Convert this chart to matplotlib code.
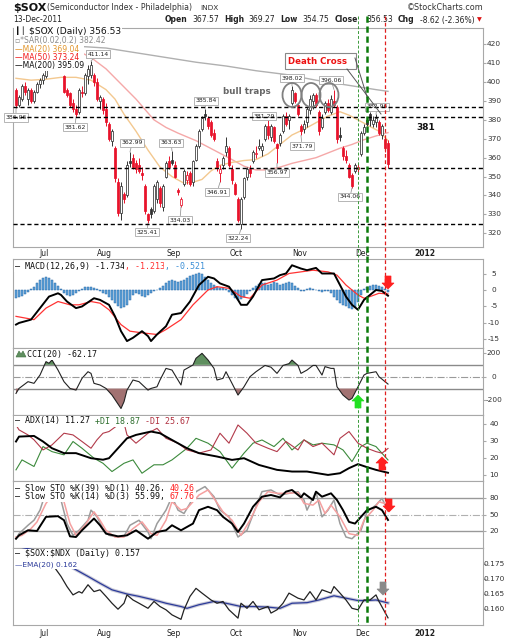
import numpy as np
import pandas as pd
import matplotlib
matplotlib.use("Agg")
import matplotlib.pyplot as plt
import matplotlib.transforms as mtransforms
from matplotlib.patches import Rectangle, Ellipse, Polygon
from matplotlib.lines import Line2D

# ---------------- data ----------------
opens = [396,388,391,398,391,396,390,395,399,401, 403,410,413,419,418,413,403,396,394,389,
         386,384,395,394,403,404,404,400,390,391, 386,378,369,365,347,331,341,340,358,360,
         357,356,352,345,330,333,332,338,344,334, 350,358,359,356,343,335,346,348,352,347,
         359,366,375,383,381,379,373,358,352,356, 363,365,354,346,338,325,339,350,354,358,
         362,365,364,370,377,371,376,367,368,374, 382,380,389,394,388,377,375,379,385,390,
         393,384,376,384,389,384,390,387,372,365, 361,356,351,353,355,362,373,380,383,378,
         379,379,372,370,367.57]
highs = [397,393,399,400,397,397,396,400,402,405, 409,414,418,424,421,415,404,397,395,391,
         388,397,398,405,409,411.14,405,402,393,392, 389,379,375,366,349,347,342,358,362.99,362,
         359,360,355,346,331,334,346,348,345,346, 358,361,363.63,358,344,339,354,353,353,359,
         367,375,382,385.84,382,380,375,360,356,361, 371,366,356,347,339,339,350,355,356,364,
         366,370,368,378,381.29,378,377,368,373,383, 384,383,398.02,395,389,378,380,387,393,394,
         394,385,383,390,391,393,396.06,388,376,366, 364,357,352,357,357,374,378,381,384,382,
         382.96,380,378,371,369.27]
lows = [386.06,387,390,393,388,389,389,394,397,399, 402,408,411,418,414,409,394,392,387,384,
        381.62,383,392,393,399,402,398,390,386,383, 377,369,366,347,329,327,336,339,355,354,
        352,352,348,330,325.41,328,331,336,334,332, 349,354,356,349,340,334.03,345,346,345,345,
        358,365,374,380,375,371,369,353,346.91,354, 361,355,346,340,326,322.24,338,348,350,357,
        360,364,361,369,370,369,368,356.97,366,373, 377,375,388,389,382,371.79,373,376,383,386,
        387,372,375,383,384,383,387,368,369,359, 357,349,344.06,352,352,361,372,377,377,376,
        376,372,370,363,354.75]
closes = [388,392,398,395,396,390,395,399,401,404, 408,413,417,422,419,410,395,393,388,386,
          383,396,394,404,407,409,400,391,392,385, 379,370,374,349,331,345,338,356,357,355,
          354,353,351,332,327,330,345,347,336,345, 357,355,357,350,342,338,353,351,346,358,
          366,374,381,382,377,372,370,355,354,360, 366,356,348,341,327,338,349,354,352,363,
          362,366,366,377,372,377,369,365,372,382, 378,382,396,390,383,374,378,386,391,393,
          388,374,381,389,385,391,388,370,371,361, 359,350,345,356,354,373,376,378,380,380,
          381,373,377,365.15,356.53]

ma20_idx = [0,5,10,15,20,25,30,33,36,40,44,48,52,56,60,62,65,68,72,76,80,84,88,92,96,100,104,108,111,114,118,121,124]
ma20_val = [402,401,401.5,402.5,402.5,401,396,391,383,374,364,355,350,346.5,347.5,348.5,353,356,357.5,358.5,
            359,362,367,372,375,378.5,382,384.3,382.5,380,376.5,374,369.04]
ma50_idx = [0,10,20,25,30,35,40,46,50,54,60,66,72,76,80,84,88,92,96,100,104,108,112,116,120,124]
ma50_val = [427,423,417,413,407,399,391,380,376,373,369,364,359,355.5,353.5,353.5,355,357,358.5,360,
            362.5,365,367,369.5,371.5,373.24]
ma200_idx = [0,10,20,30,40,50,60,70,80,90,100,110,120,124]
ma200_val = [420.5,420,419,418,415.5,413,410.5,408.5,406,404,401,398.5,396,395.09]

macd_idx = [0,1,5,8,11,14,15,17,20,22,26,28,31,33,35,37,39,42,44,45,47,50,52,55,58,61,64,66,68,71,
            73,75,77,79,82,86,88,90,92,95,97,100,102,106,108,110,112,114,116,118,120,122,124]
macd_val = [-10.5,-10,-9,-5.5,-2,-1,-1.5,-3.5,-5.5,-5,-2.5,-3,-4.5,-8,-12.5,-15.5,-14.5,-12.5,-14,-15.5,
            -13.5,-11,-7.5,-7,-3.5,1.5,4,3.5,2,1,-1.5,-4.5,-4.5,-2,3,3.5,4.5,5,7.5,6.5,
            6,6.7,5,5,1.5,-2,-4.5,-6,-3,-1.5,0,-0.3,-1.734]
signal_idx = [0,6,10,14,18,21,25,28,31,35,38,42,47,50,55,59,64,67,71,75,78,82,87,91,95,99,104,107,110,114,116,118,121,124]
signal_val = [-8,-9,-5.5,-3.5,-4.5,-4.5,-3.5,-4,-6,-10.5,-12.5,-13,-13.5,-12,-9,-4.5,0,1,0.5,-2,
              -2.5,1.5,3,5,5.5,6,5.5,4.5,1.5,-1.5,-2.5,-2,-1,-1.213]
hist_val = [-2.5,-2.2,-1.8,-1.2,-0.5,0.3,1.0,2.0,3.0,3.5,3.8,3.6,3.0,2.2,1.2,
            0.2,-0.8,-1.5,-1.8,-1.5,-1.0,-0.4,0.3,0.8,1.0,0.9,0.6,0.2,
            -0.3,-0.8,-1.2,-2.0,-3.0,-4.0,-5.0,-5.5,-5.3,-4.5,-3.0,
            -1.5,-0.8,-1.2,-1.8,-2.0,-1.5,-0.8,-0.3,0.0,
            0.5,1.2,2.0,2.8,3.0,2.8,2.5,2.6,3.0,3.5,4.2,4.6,5.0,5.2,4.8,3.8,
            3.0,2.2,1.5,0.8,0.5,0.6,0.3,
            -0.5,-1.5,-2.5,-3.0,-2.6,-2.0,-1.2,-0.4,
            0.5,1.2,1.8,2.2,2.0,1.5,1.8,2.5,2.0,1.5,1.8,2.2,2.5,2.0,1.2,0.5,
            -0.3,-0.2,0.2,0.5,0.4,0.0,-0.4,-0.5,-0.3,-0.4,
            -1.0,-2.0,-3.0,-3.8,-4.5,-5.0,-5.5,-5.8,-5.2,-3.5,-1.5,
            0.2,0.8,1.3,1.5,1.4,1.2,0.8,0.2,-0.521]

cci_idx = [0,1,4,6,8,10,11,12,14,16,18,20,22,24,25,26,28,30,32,35,36,37,39,41,44,45,47,48,50,52,
           55,56,59,60,62,64,66,67,69,70,72,74,76,78,80,83,85,87,89,91,92,94,95,97,99,100,102,103,105,106,
           107,109,111,112,114,116,117,120,121,124]
cci_val = [-141,-99,-42,-56,14,127,113,141,56,-42,-99,-113,-14,42,28,-56,-70,-99,-155,-268,
           -211,-113,-28,-42,-113,-99,-85,-28,70,56,-70,56,99,155,197,141,70,-28,-14,42,
           -56,-155,-85,0,42,95,80,28,95,110,140,95,28,56,95,95,14,85,70,70,
           -85,-155,-197,-183,-85,14,28,42,0,-62.17]

adx_idx = [0,1,6,9,12,16,20,25,29,31,34,37,40,45,48,51,57,61,67,72,76,81,87,92,97,104,108,111,114,117,120,124]
adx_val = [29.8,32.7,33.1,29.8,25.8,22.9,22.9,19.9,19,19.9,25.8,31.7,33.7,35.7,34.7,31.7,25.8,22.9,20.9,18.9,
           19.9,15.9,13,12,12,10,11,14,16.4,14.6,13,11.27]
pdi_idx = [0,2,6,9,12,16,19,22,26,29,32,36,39,42,46,49,52,57,60,64,68,72,76,79,82,86,89,92,96,99,
           102,106,109,112,115,117,120,124]
pdi_val = [13,18.9,15,26.8,23.8,21.9,29.8,25.8,19.9,16.9,12,16.9,18.9,11,16,16,18.9,25.8,31.7,28.8,
           23.8,14,22.9,28.8,30.7,26.8,31.7,24.8,30.7,27.8,28.8,27.8,24.8,17.9,26.8,28.8,26.8,18.87]
mdi_idx = [0,1,4,6,9,12,16,19,22,25,27,29,31,34,35,37,40,44,47,50,54,57,61,65,68,71,74,77,80,84,
           87,90,94,96,99,102,106,108,111,114,117,120,122,124]
mdi_val = [39.6,36.7,33.7,30.8,24.8,27.8,34.7,33.7,29.8,25.8,30.8,34.7,35.7,39.6,48,33.7,28.8,34.7,37.6,31.7,
           28.8,24.8,22.9,24.8,34.7,28.8,39.6,34.7,28.8,25.8,23.8,29.8,24.8,30.8,26.8,28.8,21.9,31.7,35.7,28.8,
           25.8,23.8,22.9,25.67]

sto39_idx = [0,1,4,7,10,14,16,18,20,22,26,28,30,34,37,40,44,47,50,52,55,59,61,64,67,69,72,74,76,79,
             82,85,88,90,92,95,96,99,100,102,105,107,109,111,113,115,117,120,122,124]
sto39_val = [6.8,12.8,21.8,20.6,45.8,47,39.8,11,9.8,21.8,42.8,30.8,15.8,11,12.8,21.8,6.8,18.8,21.8,30.8,
             21.8,33.8,57.8,63.8,57.8,45.8,33.8,18.8,33.8,63.8,81.8,84.8,80.6,90.8,93.8,80.6,87.8,75.8,90.8,81.8,
             87.8,75.8,57.8,36.8,33.8,45.8,57.8,63.8,57.8,40.26]
sto14k_idx = [0,1,4,6,8,10,12,15,17,19,21,24,25,27,29,31,34,36,38,41,44,45,47,50,52,54,56,58,60,63,
              66,68,71,74,77,80,82,85,88,91,94,96,97,100,102,104,106,108,110,112,115,117,120,122,124]
sto14k_val = [6.8,15.8,30.8,39.8,57.8,90.8,93.8,75.8,33.8,12.8,21.8,39.8,57.8,45.8,24.8,12.8,9.8,11,30.8,39.8,
              18.8,6.8,33.8,57.8,81.8,57.8,51.8,69.8,90.8,99.8,81.8,57.8,45.8,9.8,21.8,63.8,90.8,93.8,84.8,87.8,
              90.8,75.8,57.8,90.8,45.8,57.8,75.8,33.8,9.8,6.8,21.8,54.8,66.8,78.8,55.99]
sto14d_idx = [0,2,5,7,10,13,16,18,20,23,26,28,30,33,36,39,42,45,47,50,52,55,57,61,64,66,69,72,75,78,
              81,84,87,90,94,96,99,101,103,105,108,111,114,116,119,121,124]
sto14d_val = [9.8,12.8,24.8,36.8,69.8,90.8,72.8,33.8,12.8,30.8,54.8,39.8,21.8,9.8,9.8,24.8,36.8,15.8,12.8,39.8,
              72.8,57.8,60.8,84.8,93.8,78.8,54.8,39.8,12.8,39.8,72.8,90.8,87.8,87.8,89,69.8,66.8,75.8,51.8,66.8,
              45.8,15.8,12.8,39.8,57.8,72.8,67.76]

ratio_idx = [0,4,8,11,13,15,17,19,21,22,24,26,28,30,32,34,36,37,39,41,44,46,48,50,52,55,56,58,60,62,
             65,67,69,71,74,75,77,79,81,84,85,87,89,91,94,96,98,100,102,105,106,108,110,112,114,116,118,120,121,124]
ratio_val = [0.1787,0.1776,0.1759,0.1742,0.1737,0.1709,0.1675,0.1647,0.1658,0.1653,
             0.1681,0.1658,0.1664,0.1642,0.1619,0.1599,0.1619,0.1647,0.1630,0.1619,
             0.1602,0.1625,0.1608,0.1597,0.1580,0.1565,0.1597,0.1642,0.1669,0.1653,
             0.1630,0.1619,0.1625,0.1597,0.1569,0.1619,0.1602,0.1625,0.1597,0.1608,
             0.1586,0.1597,0.1619,0.1653,0.1636,0.1630,0.1658,0.1630,0.1664,0.1653,
             0.1675,0.1653,0.1630,0.1602,0.1597,0.1630,0.1630,0.1647,0.1625,0.1570]
ema_idx = [0,6,11,17,24,28,32,37,41,46,50,55,57,61,66,70,75,79,84,88,92,97,101,106,110,114,117,120,124]
ema_val = [0.1810,0.1798,0.1776,0.1748,0.1709,0.1686,0.1664,0.1650,0.1642,0.1630,
           0.1619,0.1608,0.1602,0.1614,0.1625,0.1619,0.1608,0.1608,0.1606,0.1602,
           0.1619,0.1621,0.1630,0.1644,0.1636,0.1628,0.1628,0.1630,0.1620]

support_levels = [387, 381.3, 354.5, 325]
value_labels = [  # text, day index, price
    ("386.06", 0, 386.06), ("381.62", 20, 381.62), ("411.14", 25, 411.14), ("362.99", 38, 362.99),
    ("363.63", 52, 363.63), ("385.84", 63, 385.84), ("381.29", 84, 381.29), ("398.02", 92, 398.02),
    ("396.06", 106, 396.06), ("382.96", 120, 382.96), ("371.79", 95, 371.79), ("356.97", 87, 356.97),
    ("346.91", 68, 346.91), ("344.06", 112, 344.06), ("325.41", 44, 325.41), ("334.03", 55, 334.03),
    ("322.24", 75, 322.24)]
label_px = [(16, 117.5), (75, 127), (98, 54), (132, 143), (171, 143), (206, 101), (264, 116),
            (292, 78), (331, 80), (377, 107), (302, 146), (277, 173), (217, 192), (350, 197),
            (147, 232), (180, 220), (238, 238)]

# ---------------- figure ----------------
W, H = 529, 640
plt.rcParams['font.family'] = ['DejaVu Sans']
fig = plt.figure(figsize=(W / 100, H / 100), dpi=100)
fig.patch.set_facecolor('white')
renderer = fig.canvas.get_renderer()

n = len(closes)
holidays = pd.to_datetime(['2011-07-04', '2011-09-05', '2011-11-24', '2011-12-26',
                           '2012-01-02', '2012-01-16', '2012-02-20'])
days = pd.bdate_range('2011-06-17', '2012-03-30')
days = days[~days.isin(holidays)]

XL = (-1.0, 155.67)
LPX, RPX = 13, 483
K = '#111111'
RED = '#e8132b'
GRID = '#a8a8a8'


def make_ax(top, bot):
    ax = fig.add_axes([LPX / W, 1 - bot / H, (RPX - LPX) / W, (bot - top) / H])
    ax.set_xlim(*XL)
    ax.set_xticks([])
    for s in ax.spines.values():
        s.set_color(GRID)
        s.set_linewidth(0.8)
    ax.yaxis.tick_right()
    ax.tick_params(axis='y', length=2, color='#aaaaaa', labelright=False, labelleft=False)
    return ax


def ylabels(ax, ticks, labels):
    ax.set_yticks(ticks)
    tr = ax.get_yaxis_transform()
    for t, s in zip(ticks, labels):
        ax.text(1 + 11 / 470, t, s, transform=tr, ha='center', va='center',
                fontsize=5.3, color='#333333', clip_on=False)


ax1 = make_ax(28, 247); ax1.set_ylim(312.75, 428.6)
ax2 = make_ax(259, 348); ax2.set_ylim(-17.6, 9.4)
ax3 = make_ax(348, 415); ax3.set_ylim(-323, 242)
ax4 = make_ax(415, 481); ax4.set_ylim(6.4, 45.5)
ax5 = make_ax(481, 547.5); ax5.set_ylim(-8.9, 109.8)
ax6 = make_ax(547.5, 625); ax6.set_ylim(0.1546, 0.1806)

ylabels(ax1, list(range(320, 421, 10)), [str(v) for v in range(320, 421, 10)])
ylabels(ax2, [5, 0, -5, -10, -15], ['5', '0', '-5', '-10', '-15'])
ylabels(ax3, [200, 0, -200], ['200', '0', '-200'])
ylabels(ax4, [10, 20, 30, 40], ['10', '20', '30', '40'])
ylabels(ax5, [20, 50, 80], ['20', '50', '80'])
ylabels(ax6, [0.160, 0.165, 0.170, 0.175], ['0.160', '0.165', '0.170', '0.175'])


def px2data(ax, x, y):
    return ax.transData.inverted().transform((x, H - y))


def white_box(x0, y0, x1, y1, z=19):
    # figure-level white block (legend background), pixel coords from top-left
    fig.add_artist(Rectangle((x0 / W, 1 - y1 / H), (x1 - x0) / W, (y1 - y0) / H,
                             transform=fig.transFigure, fc='white', ec='none', zorder=z))


# month labels
months = [('Jul', 2011, 7), ('Aug', 2011, 8), ('Sep', 2011, 9), ('Oct', 2011, 10),
          ('Nov', 2011, 11), ('Dec', 2011, 12), ('2012', 2012, 1)]
for ax, yoff in [(ax1, -6 / 219), (ax6, -8 / 77.5)]:
    tr = mtransforms.blended_transform_factory(ax.transData, ax.transAxes)
    for lab, yy, mm in months:
        idx = int(np.where((days.year == yy) & (days.month == mm))[0][0])
        ax.text(idx - 0.6, yoff, lab, transform=tr, ha='center', va='center', fontsize=5.5,
                color='#222222', fontweight='bold' if lab == '2012' else 'normal', clip_on=False)

# ---------------- main price panel ----------------
ax1.plot(ma200_idx, ma200_val, color='#b0b0b0', lw=1.0, zorder=2)
ax1.plot(ma50_idx, ma50_val, color='#f5a8a8', lw=1.0, zorder=2)
ax1.plot(ma20_idx, ma20_val, color='#f3c88f', lw=1.0, zorder=2)

for k in range(n):
    o, h, l, c = opens[k], highs[k], lows[k], closes[k]
    prev = closes[k - 1] if k > 0 else o
    col = RED if c < prev else '#333333'
    ax1.vlines(k, l, h, color=col, lw=0.7, zorder=3)
    up = c >= o
    ax1.add_patch(Rectangle((k - 0.32, min(o, c)), 0.64, max(abs(c - o), 0.4),
                            facecolor='white' if up else col, edgecolor=col, lw=0.55, zorder=3.5))

for v in support_levels:
    ax1.axhline(v, color='black', lw=1.0, ls=(0, (3, 2)), zorder=5)

for (txt, i, v), (xp, yp) in zip(value_labels, label_px):
    xd, yd = px2data(ax1, xp, yp)
    ax1.annotate(txt, xy=(i, v), xytext=(xd, yd), textcoords='data', ha='center', va='center',
                 fontsize=4.4, color='#222222', zorder=4.6, annotation_clip=False,
                 bbox=dict(boxstyle='square,pad=0.25', fc='white', ec='#aaaaaa', lw=0.6),
                 arrowprops=dict(arrowstyle='-', color='#999999', lw=0.6, shrinkA=0, shrinkB=0))

# bull trap circles
for cx in (292, 311, 329):
    xd, yd = px2data(ax1, cx, 95)
    ax1.add_patch(Ellipse((xd, yd), 19 / 3.0, 24 / 1.89, fill=False, ec='#808080', lw=1.3, zorder=6))
xd, yd = px2data(ax1, 247, 91)
ax1.text(xd, yd, 'bull traps', ha='center', va='center', fontsize=6.3, fontweight='bold',
         color='#666666', zorder=6)
xd, yd = px2data(ax1, 426, 127)
ax1.text(xd, yd, '381', ha='center', va='center', fontsize=6.5, fontweight='bold', color='#111111', zorder=6)

# Death cross callout
fig.add_artist(Rectangle((285 / W, 1 - 69 / H), 71 / W, 16 / H, transform=fig.transFigure,
                         fc='white', ec='#888888', lw=0.8, zorder=21))
fig.text(288 / W, 1 - 61.5 / H, 'Death Cross', color='#ee1111', fontsize=6.2, fontweight='bold',
         ha='left', va='center', zorder=22)
for (x0, y0), (x1, y1) in [((355, 58), (368, 100)), ((347, 69), (381, 114))]:
    fig.add_artist(Line2D([x0 / W, x1 / W], [1 - y0 / H, 1 - y1 / H], transform=fig.transFigure,
                          color='#555555', lw=0.7, zorder=22))

# ---------------- MACD ----------------
ax2.bar(range(n), hist_val, width=0.9, color='#5ea2da', edgecolor='#2a6aa8', lw=0.35, zorder=2)
ax2.plot(signal_idx, signal_val, color='#ff3333', lw=0.9, zorder=3)
ax2.plot(macd_idx, macd_val, color='black', lw=1.4, zorder=4)

# ---------------- CCI ----------------
cx_ = np.array(cci_idx, dtype=float)
cv_ = np.array(cci_val, dtype=float)
ax3.fill_between(cx_, cv_, 100, where=cv_ > 100, interpolate=True, color='#5f8f5f', lw=0, zorder=2)
ax3.fill_between(cx_, cv_, -100, where=cv_ < -100, interpolate=True, color='#a27272', lw=0, zorder=2)
ax3.axhline(100, color='#8a8a8a', lw=1.0, zorder=1)
ax3.axhline(-100, color='#8a8a8a', lw=1.0, zorder=1)
ax3.axhline(0, color='#9a9a9a', lw=0.8, ls='-.', zorder=1)
ax3.plot(cx_, cv_, color='#222222', lw=0.8, zorder=3)

# ---------------- ADX ----------------
ax4.plot(pdi_idx, pdi_val, color='#3c8a3c', lw=0.8, zorder=2)
ax4.plot(mdi_idx, mdi_val, color='#b23a4a', lw=0.8, zorder=2)
ax4.plot(adx_idx, adx_val, color='black', lw=1.4, zorder=3)

# ---------------- Slow STO ----------------
ax5.axhline(80, color='#999999', lw=1.0, zorder=1)
ax5.axhline(20, color='#999999', lw=1.0, zorder=1)
ax5.axhline(50, color='#b0b0b0', lw=0.8, ls='-.', zorder=1)
ax5.plot(sto14k_idx, sto14k_val, color='#9c9c9c', lw=1.1, zorder=2)
ax5.plot(sto14d_idx, sto14d_val, color='#f5a0a0', lw=1.1, zorder=2)
ax5.plot(sto39_idx, sto39_val, color='black', lw=1.4, zorder=3)

# ---------------- SOX:NDX ----------------
ax6.plot(ema_idx, ema_val, color='#c9c9d6', lw=2.4, zorder=2)
ax6.plot(ema_idx, ema_val, color='#2b3a9a', lw=0.9, zorder=3)
ax6.plot(ratio_idx, ratio_val, color='#222222', lw=0.9, zorder=4)

# legend background blocks
white_box(13.6, 28.6, 84, 70)
white_box(13.6, 28.6, 124, 36)
white_box(13.6, 549, 146, 559.5)
white_box(13.6, 559.5, 70, 569)

# the 411.14 tag sits on top of the legend block in the original
t411 = fig.text(98 / W, 1 - 54 / H, '411.14', fontsize=4.4, color='#222222', ha='center', va='center',
                zorder=19.5, bbox=dict(boxstyle='square,pad=0.25', fc='white', ec='#aaaaaa', lw=0.6))


# ---------------- text helpers ----------------
def rich(xpx, ypx, parts, size=6.0, family='DejaVu Sans', bg=True):
    x = xpx
    for s, col, wt in parts:
        t = fig.text(x / W, 1 - ypx / H, s, color=col, fontsize=size, fontweight=wt, family=family,
                     ha='left', va='center', zorder=20)
        if bg:
            t.set_bbox(dict(boxstyle='square,pad=0.12', fc='white', ec='none'))
        bb = t.get_window_extent(renderer=renderer)
        x = bb.x1
    return x


MONO = 'DejaVu Sans Mono'
# main legend
rich(15, 31.7, [("\u2503\u2502 ", K, 'normal'), ("\\$SOX (Daily) 356.53", K, 'normal')], size=6.6)
rich(15, 40.7, [("\u25AB*SAR(0.02,0.2) 382.42", '#8a8a8a', 'normal')], size=5.5)
rich(15, 49.3, [("\u2014MA(20) 369.04", '#e2962c', 'normal')], size=5.5)
rich(15, 57.3, [("\u2014MA(50) 373.24", '#f21c1c', 'normal')], size=5.5)
rich(15, 65.3, [("\u2014MA(200) 395.09", K, 'normal')], size=5.5)
# panel legends
rich(15, 266.5, [("\u2014 MACD(12,26,9) -1.734", K, 'normal'), (", -1.213", '#ff3030', 'normal'),
                 (", -0.521", '#3b8fd6', 'normal')], size=6.0, family=MONO)
fig.add_artist(Polygon([(16 / W, 1 - 357 / H), (19 / W, 1 - 351 / H), (21 / W, 1 - 354 / H),
                        (23 / W, 1 - 351 / H), (26 / W, 1 - 357 / H)], closed=True,
                       transform=fig.transFigure, fc='#5f8f5f', ec='#3f6f3f', lw=0.4, zorder=21))
rich(27, 354, [("CCI(20) -62.17", K, 'normal')], size=6.0, family=MONO)
rich(15, 421, [("\u2014 ADX(14) 11.27 ", K, 'normal'), ("+DI 18.87 ", '#2f6f2f', 'normal'),
               ("-DI 25.67", '#b0303f', 'normal')], size=6.0, family=MONO)
rich(15, 488.3, [("\u2014 Slow STO %K(39) %D(1) 40.26, ", K, 'normal'), ("40.26", '#ff2020', 'normal')],
     size=6.0, family=MONO)
rich(15, 496.5, [("\u2014 Slow STO %K(14) %D(3) 55.99, ", K, 'normal'), ("67.76", '#ff2020', 'normal')],
     size=6.0, family=MONO)
rich(15, 554, [("\u2014 \\$SOX:\\$NDX (Daily) 0.157", K, 'normal')], size=6.0, family=MONO)
rich(15, 564.5, [("\u2014EMA(20) 0.162", '#2b3a9a', 'normal')], size=5.3)

# header
fig.text(13 / W, 1 - 8 / H, '\\$SOX', fontsize=8, fontweight='bold', color=K, ha='left', va='center')
fig.text(47 / W, 1 - 8 / H, '(Semiconductor Index - Philadelphia)', fontsize=5.7, color='#333333',
         ha='left', va='center')
fig.text(200 / W, 1 - 8 / H, 'INDX', fontsize=5.3, color='#333333', ha='left', va='center')
fig.text(484 / W, 1 - 8 / H, '\u00a9StockCharts.com', fontsize=5.8, color='#333333', ha='right', va='center')
fig.text(13 / W, 1 - 20 / H, '13-Dec-2011', fontsize=5.5, color='#222222', ha='left', va='center')
hdr = [(165, 'Open', True), (192, '367.57', False), (224, 'High', True), (248, '369.27', False),
       (280, 'Low', True), (302, '354.75', False), (335, 'Close', True), (366, '356.53', False),
       (398, 'Chg', True), (420, '-8.62 (-2.36%)', False)]
for xp, s, b in hdr:
    fig.text(xp / W, 1 - 20 / H, s, fontsize=5.5, color='#222222', fontweight='bold' if b else 'normal',
             ha='left', va='center')
fig.text(477 / W, 1 - 20 / H, '\u25BC', fontsize=4.5, color='#dd1111', ha='left', va='center')

# ---------------- vertical signal lines ----------------
for i, col, lw, ls in [(114.0, '#3a9a3a', 0.7, (0, (3, 2))), (116.85, '#0b7a0b', 1.8, (0, (2.5, 1.5))),
                       (123.0, '#e02020', 0.9, (0, (3, 2)))]:
    xpx = ax1.transData.transform((i, 350))[0]
    fig.add_artist(Line2D([xpx / W, xpx / W], [1 - 16 / H, 1 - 625 / H], transform=fig.transFigure,
                          color=col, lw=lw, ls=ls, zorder=25))


# ---------------- block arrows ----------------
def block_arrow(xc, ytip, down, color, hw=6, sw=3, hl=6, L=13):
    s = 1 if down else -1
    pts = [(xc, ytip), (xc - hw, ytip - s * hl), (xc - sw, ytip - s * hl), (xc - sw, ytip - s * L),
           (xc + sw, ytip - s * L), (xc + sw, ytip - s * hl), (xc + hw, ytip - s * hl)]
    fig.add_artist(Polygon([(x / W, 1 - y / H) for x, y in pts], closed=True, transform=fig.transFigure,
                           fc=color, ec=color, lw=0.5, zorder=30))


block_arrow(388, 289, True, '#ff2020')
block_arrow(358, 395, False, '#22e022')
block_arrow(382, 457, False, '#ff2020')
block_arrow(389, 512, True, '#ff2020')
block_arrow(383, 595, True, '#8a8a8a')

fig.savefig('out.png', dpi=100, facecolor='white')
